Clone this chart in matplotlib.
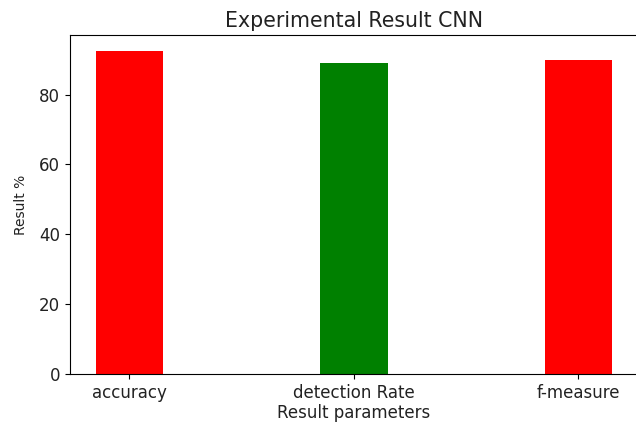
import matplotlib.pyplot as plt

params = ['accuracy', 'detection Rate', 'f-measure']
results = [92.5, 89.0, 89.9]
colors = ['red', 'green', 'red']

fig = plt.figure(figsize=(6.36, 4.25), dpi=100)
ax = fig.add_axes([0.110, 0.12, 0.893, 0.798])
ax.bar(params, results, width=0.3, color=colors)
ax.set_title('Experimental Result CNN', fontsize=14.8, color='#222222')
ax.set_xlabel('Result parameters', fontsize=12, color='#222222', labelpad=2)
ax.set_ylabel('Result %', fontsize=10, color='#222222', labelpad=8)
ax.tick_params(axis='x', labelsize=12, labelcolor='#222222')
ax.tick_params(axis='y', labelsize=12, labelcolor='#222222')
plt.savefig('out.png', dpi=100)
